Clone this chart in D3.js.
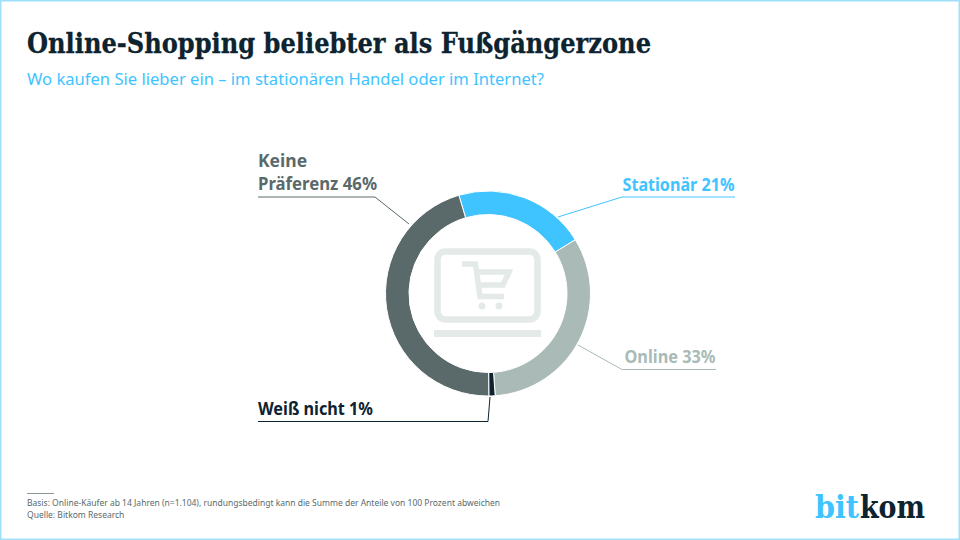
<!DOCTYPE html>
<html>
<head>
<meta charset="utf-8">
<script src="https://cdnjs.cloudflare.com/ajax/libs/d3/7.8.5/d3.min.js"></script>
<style>
  html, body { margin: 0; padding: 0; background: #fff; }
  svg { display: block; }
  text { font-family: "Noto Sans", sans-serif; }
  .serif { font-family: "DejaVu Serif", serif; font-weight: 700; }
</style>
</head>
<body>
<div id="chart"></div>
<script>
// Werte (Summe 101 wegen Rundung)
const categories = ['Stationär', 'Online', 'Weiß nicht', 'Keine Präferenz'];
const shares = [21, 33, 1, 46];
const sliceColors = ['#40c4ff', '#a9bab7', '#0d2330', '#5a6a6b'];

const title = 'Online-Shopping beliebter als Fußgängerzone';
const subtitle = 'Wo kaufen Sie lieber ein – im stationären Handel oder im Internet?';
const notes = [
  'Basis: Online-Käufer ab 14 Jahren (n=1.104), rundungsbedingt kann die Summe der Anteile von 100 Prozent abweichen',
  'Quelle: Bitkom Research'
];

const width = 960, height = 540;
const cx = 488, cy = 293.5;

const svg = d3.select('#chart').append('svg')
  .attr('width', width)
  .attr('height', height);

// Rahmen
svg.append('rect')
  .attr('x', 0.75).attr('y', 0.75)
  .attr('width', width - 1.5).attr('height', height - 1.5)
  .attr('fill', 'none')
  .attr('stroke', '#9fe0fb')
  .attr('stroke-width', 1.5);

svg.append('text')
  .attr('class', 'serif')
  .attr('x', 27).attr('y', 53)
  .attr('font-size', 27)
  .attr('textLength', 624)
  .attr('lengthAdjust', 'spacingAndGlyphs')
  .attr('fill', '#0d2330')
  .attr('stroke', '#0d2330')
  .attr('stroke-width', 0.3)
  .text(title);

svg.append('text')
  .attr('x', 27).attr('y', 85)
  .attr('font-size', 16.5)
  .attr('textLength', 517)
  .attr('lengthAdjust', 'spacingAndGlyphs')
  .attr('fill', '#40c4ff')
  .text(subtitle);

// Ring
const pie = d3.pie()
  .sort(null)
  .startAngle(-16.5 * Math.PI / 180)
  .endAngle((360 - 16.5) * Math.PI / 180);

const arc = d3.arc().innerRadius(79).outerRadius(102.5);

const ring = svg.append('g').attr('transform', `translate(${cx},${cy})`);

ring.selectAll('path')
  .data(pie(shares))
  .join('path')
  .attr('d', arc)
  .attr('fill', (d, i) => sliceColors[i])
  .attr('stroke', '#fff')
  .attr('stroke-width', 1);

// Beschriftungen mit Fuehrungslinien
const callouts = [
  { idx: 0, lines: ['Stationär 21%'], x: 622.5, y: 191, line: [[735, 197], [622, 197], [558, 217]], w: 112 },
  { idx: 1, lines: ['Online 33%'], x: 624.5, y: 363, line: [[716, 369.5], [622, 369.5], [578, 345]], w: 91 },
  { idx: 2, lines: ['Weiß nicht 1%'], x: 258, y: 415, line: [[258, 421.5], [488, 421.5], [490, 397]], w: 115 },
  { idx: 3, lines: ['Keine', 'Präferenz 46%'], x: 258, y: 167, line: [[258, 197], [375, 197], [409, 224]], w: 119 }
];

callouts.forEach(c => {
  svg.append('path')
    .attr('d', d3.line()(c.line))
    .attr('fill', 'none')
    .attr('stroke', sliceColors[c.idx])
    .attr('stroke-width', 1);

  c.lines.forEach((t, i) => {
    const label = svg.append('text')
      .attr('x', c.x)
      .attr('y', c.y + i * 23)
      .attr('font-size', 17.5)
      .attr('font-weight', 700)
      .attr('fill', sliceColors[c.idx])
      .text(t);
    if (i === c.lines.length - 1) {
      label.attr('textLength', c.w).attr('lengthAdjust', 'spacingAndGlyphs');
    }
  });
});

// Icon in der Mitte: Laptop mit Einkaufswagen
const icon = svg.append('g')
  .attr('fill', 'none')
  .attr('stroke', '#e4eae8');

icon.append('rect')
  .attr('x', 437.5).attr('y', 251.5)
  .attr('width', 100).attr('height', 68)
  .attr('rx', 8)
  .attr('stroke-width', 6.5);

icon.append('rect')
  .attr('x', 434).attr('y', 330)
  .attr('width', 107).attr('height', 7)
  .attr('fill', '#e4eae8')
  .attr('stroke', 'none');

icon.append('path')
  .attr('d', 'M462 264H475.5L480 296.5H504')
  .attr('stroke-width', 5.5);

icon.append('path')
  .attr('d', 'M476 272H509L503 285H479')
  .attr('stroke-width', 5.5);

[482, 499].forEach(x => {
  icon.append('circle')
    .attr('cx', x).attr('cy', 306)
    .attr('r', 3.5)
    .attr('fill', '#e4eae8')
    .attr('stroke', 'none');
});

// Fussnote
svg.append('line')
  .attr('x1', 27).attr('x2', 54)
  .attr('y1', 493.5).attr('y2', 493.5)
  .attr('stroke', '#5a6a6b')
  .attr('stroke-width', 0.7);

notes.forEach((t, i) => {
  svg.append('text')
    .attr('x', 27)
    .attr('y', 506 + i * 12)
    .attr('font-size', 8.5)
    .attr('fill', '#5a6a6b')
    .text(t);
});

// Logo
svg.append('text')
  .attr('class', 'serif')
  .attr('x', 815).attr('y', 518)
  .attr('font-size', 31)
  .attr('textLength', 44)
  .attr('lengthAdjust', 'spacingAndGlyphs')
  .attr('fill', '#40c4ff')
  .text('bit');

svg.append('text')
  .attr('class', 'serif')
  .attr('x', 860).attr('y', 518)
  .attr('font-size', 31)
  .attr('textLength', 65)
  .attr('lengthAdjust', 'spacingAndGlyphs')
  .attr('fill', '#0d2330')
  .text('kom');
</script>
</body>
</html>
